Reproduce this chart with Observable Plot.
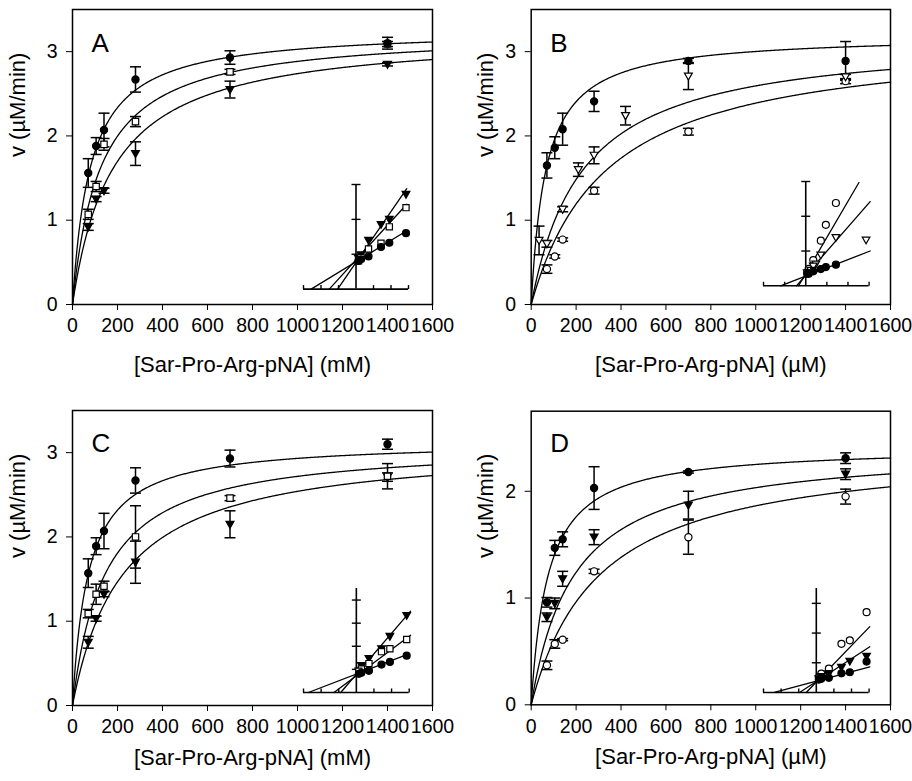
<!DOCTYPE html>
<html><head><meta charset="utf-8">
<script src="https://cdn.jsdelivr.net/npm/d3@7"></script>
<script src="https://cdn.jsdelivr.net/npm/@observablehq/plot@0.6"></script>
<style>
body{margin:0;background:#fff;}
#root{position:relative;width:912px;height:781px;overflow:hidden;background:#fff;font-family:"Liberation Sans",Arial,sans-serif;}
#root svg{position:absolute;overflow:visible;}
</style></head><body><div id="root"></div>
<script>
// ---------- data ----------
const S = [70, 105, 140, 280, 700, 1400];
const xTicks = [0, 200, 400, 600, 800, 1000, 1200, 1400, 1600];

// Panel A
const A_fc_v = [1.56, 1.88, 2.07, 2.67, 2.93, 3.10];
const A_fc_e = [0.17, 0.10, 0.20, 0.15, 0.08, 0.07];
const A_os_v = [1.07, 1.40, 1.90, 2.17, 2.76, 3.09];
const A_os_e = [0.06, 0.06, 0.07, 0.06, 0.03, 0.03];
const A_ft_v = [0.92, 1.25, 1.35, 1.79, 2.55, 2.85];
const A_ft_e = [0.04, 0.03, 0.03, 0.14, 0.10, 0.02];
const A_Vmax = [3.27, 3.245, 3.235];
const A_Km = [80, 125, 181];
const A_lbSlope = [24.5, 44.0, 58.3];
const A_lbInt = [0.314, 0.336, 0.306];
const A_lbEnd = [0.0145, 0.0145, 0.0145];

// Panel B
const B_fc_v = [1.65, 1.86, 2.08, 2.41, 2.89, 2.89];
const B_fc_e = [0.15, 0.13, 0.19, 0.12, 0.03, 0.23];
const B_ot_x = [35, 70, 140, 210, 280, 420, 700, 1400];
const B_ot_v = [0.76, 0.72, 1.13, 1.60, 1.77, 2.24, 2.71, 2.70];
const B_ot_e = [0.17, 0.04, 0.03, 0.08, 0.10, 0.11, 0.16, 0.03];
const B_oc_v = [0.42, 0.57, 0.77, 1.35, 2.05, 2.65];
const B_oc_e = [0.05, 0.02, 0.02, 0.04, 0.04, 0.03];
const B_Vmax = [3.20, 3.19, 3.19];
const B_Km = [66, 230, 335];
const B_lbSlope = [23.6, 69.5, 104];
const B_lbInt = [0.281, 0.30, 0.35];
const B_lbEnd = [0.0305, 0.0305, 0.0252];

// Panel C
const C_fc_v = [1.57, 1.89, 2.07, 2.67, 2.93, 3.10];
const C_fc_e = [0.17, 0.10, 0.21, 0.15, 0.10, 0.06];
const C_os_v = [1.09, 1.32, 1.415, 2.00, 2.46, 2.72];
const C_os_e = [0.05, 0.12, 0.06, 0.37, 0.03, 0.15];
const C_ft_v = [0.75, 1.03, 1.32, 1.70, 2.15, 2.71];
const C_ft_e = [0.07, 0.03, 0.03, 0.25, 0.16, 0.05];
const C_Vmax = [3.14, 3.11, 3.11];
const C_Km = [71, 144, 224];
const C_lbSlope = [23.5, 45.6, 71];
const C_lbInt = [0.32, 0.29, 0.315];
const C_lbEnd = [0.0149, 0.0154, 0.0154];

// Panel D
const D_fc_v = [0.96, 1.47, 1.55, 2.03, 2.18, 2.31];
const D_fc_e = [0.045, 0.07, 0.07, 0.20, 0.01, 0.05];
const D_ft_v = [0.82, 0.95, 1.18, 1.57, 1.87, 2.16];
const D_ft_e = [0.04, 0.05, 0.07, 0.07, 0.13, 0.05];
const D_oc_v = [0.37, 0.57, 0.61, 1.25, 1.57, 1.95];
const D_oc_e = [0.04, 0.04, 0.01, 0.02, 0.16, 0.07];
const D_Vmax = [2.42, 2.42, 2.43];
const D_Km = [75, 190, 304];
const D_lbSlope = [31.9, 77, 122.8];
const D_lbInt = [0.38, 0.367, 0.351];
const D_lbEnd = [0.0152, 0.0152, 0.0152];

const labelmM = "[Sar-Pro-Arg-pNA] (mM)";
const labeluM = "[Sar-Pro-Arg-pNA] (µM)";
const ylabel = "v (µM/min)";

// ---------- symbols ----------
const downTri = {draw(ctx, size){ const r = Math.sqrt(size/Math.PI);
  ctx.moveTo(-1.1*r, -0.85*r); ctx.lineTo(1.1*r, -0.85*r); ctx.lineTo(0, 1.1*r); ctx.closePath(); }};
const capSym = {draw(ctx, size){ const r = Math.sqrt(size/Math.PI); ctx.moveTo(-r,0); ctx.lineTo(r,0); }};
const upTick = {draw(ctx){ ctx.moveTo(0,0); ctx.lineTo(0,-4); }};
const crossTick = {draw(ctx){ ctx.moveTo(-4.5,0); ctx.lineTo(4.5,0); }};
const markerStyle = {
  fc: {symbol: "circle", fill: "black"},
  oc: {symbol: "circle", fill: "white"},
  os: {symbol: "square", fill: "white"},
  ft: {symbol: downTri, fill: "black"},
  ot: {symbol: downTri, fill: "white"}
};

const FONT = "Liberation Sans, Arial, sans-serif";
const root = document.getElementById("root");

function place(svg, left, top){ svg.style.left = left + "px"; svg.style.top = top + "px"; root.appendChild(svg); }

function mainPanel(c){
  const marks = [];
  const grid = d3.range(0, 1601, 4);
  c.series.forEach(s => {
    marks.push(Plot.line(grid.map(x => ({x, y: s.V * x / (s.K + x)})), {x: "x", y: "y", stroke: "black", strokeWidth: 1.3}));
  });
  c.series.forEach(s => {
    const pts = s.x.map((x, i) => ({x, v: s.v[i], e: s.e[i]}));
    marks.push(Plot.ruleX(pts, {x: "x", y1: d => d.v - d.e, y2: d => d.v + d.e, stroke: "black", strokeWidth: 1.5}));
    marks.push(Plot.dot(pts, {x: "x", y: d => d.v + d.e, symbol: capSym, r: 5.5, stroke: "black", strokeWidth: 1.5, fill: "none"}));
    marks.push(Plot.dot(pts, {x: "x", y: d => d.v - d.e, symbol: capSym, r: 5.5, stroke: "black", strokeWidth: 1.5, fill: "none"}));
  });
  c.series.slice().reverse().forEach(s => {
    const pts = s.x.map((x, i) => ({x, v: s.v[i]}));
    const m = markerStyle[s.m];
    marks.push(Plot.dot(pts, {x: "x", y: "v", symbol: m.symbol, fill: m.fill, stroke: "black", strokeWidth: 1.2, r: 3.6}));
  });
  marks.push(Plot.frame({stroke: "black", strokeWidth: 1.5}));
  marks.push(Plot.text([c.letter], {text: d => d, frameAnchor: "top-left", textAnchor: "start", lineAnchor: "top", dx: 19, dy: c.letterDy, fontSize: 26, fill: "black"}));
  marks.push(Plot.text([c.xlabel], {text: d => d, frameAnchor: "bottom", dy: c.xlabelDy, fontSize: 22, fill: "black"}));
  marks.push(Plot.text([ylabel], {text: d => d, frameAnchor: "left", dx: c.ylabelDx, rotate: -90, fontSize: 22, fill: "black"}));
  const svg = Plot.plot({
    width: c.width, height: c.height,
    marginLeft: c.mL, marginRight: c.mR, marginTop: c.mT, marginBottom: c.mB,
    x: {domain: [0, 1600], ticks: xTicks, tickSize: 6, tickPadding: 8, tickFormat: d3.format("d"), label: null},
    y: {domain: [0, c.ymax], ticks: c.yticks, tickSize: 6, tickPadding: 9, tickFormat: d3.format("d"), label: null},
    style: {fontSize: "19.5px", fontFamily: FONT, color: "black", background: "transparent", overflow: "visible"},
    marks
  });
  place(svg, c.left, c.top);
}

function inset(c){
  const m = 10;
  const marks = [];
  marks.push(Plot.ruleY([0], {stroke: "black", strokeWidth: 1.6}));
  marks.push(Plot.ruleX([0], {stroke: "black", strokeWidth: 1.6}));
  marks.push(Plot.dot(c.xticks.map(x => ({x, y: 0})), {x: "x", y: "y", symbol: upTick, stroke: "black", strokeWidth: 1.4, r: 3}));
  marks.push(Plot.dot(c.yticks.map(y => ({x: 0, y})), {x: "x", y: "y", symbol: crossTick, stroke: "black", strokeWidth: 1.4, r: 3}));
  c.lines.forEach(l => {
    marks.push(Plot.line([{x: -l.b / l.a, y: 0}, {x: l.end, y: l.b + l.a * l.end}], {x: "x", y: "y", stroke: "black", strokeWidth: 1.3}));
  });
  c.series.slice().reverse().forEach(s => {
    const pts = s.x.map((x, i) => ({x: 1 / x, y: 1 / s.v[i]}));
    const ms = markerStyle[s.m];
    marks.push(Plot.dot(pts, {x: "x", y: "y", symbol: ms.symbol, fill: ms.fill, stroke: "black", strokeWidth: 1.2, r: 3.5}));
  });
  const svg = Plot.plot({
    width: c.w + 2 * m, height: c.h + 2 * m,
    marginLeft: m, marginRight: m, marginTop: m, marginBottom: m,
    x: {domain: c.xdomain, axis: null},
    y: {domain: c.ydomain, axis: null},
    style: {background: "transparent", overflow: "visible"},
    marks
  });
  place(svg, c.left - m, c.top - m);
}

function mkLines(a, b, e){ return a.map((ai, i) => ({a: ai, b: b[i], end: e[i]})); }

// ---------- panels ----------
const serA = [
  {x: S, v: A_fc_v, e: A_fc_e, m: "fc", V: A_Vmax[0], K: A_Km[0]},
  {x: S, v: A_os_v, e: A_os_e, m: "os", V: A_Vmax[1], K: A_Km[1]},
  {x: S, v: A_ft_v, e: A_ft_e, m: "ft", V: A_Vmax[2], K: A_Km[2]}
];
const serB = [
  {x: S, v: B_fc_v, e: B_fc_e, m: "fc", V: B_Vmax[0], K: B_Km[0]},
  {x: B_ot_x, v: B_ot_v, e: B_ot_e, m: "ot", V: B_Vmax[1], K: B_Km[1]},
  {x: S, v: B_oc_v, e: B_oc_e, m: "oc", V: B_Vmax[2], K: B_Km[2]}
];
const serC = [
  {x: S, v: C_fc_v, e: C_fc_e, m: "fc", V: C_Vmax[0], K: C_Km[0]},
  {x: S, v: C_os_v, e: C_os_e, m: "os", V: C_Vmax[1], K: C_Km[1]},
  {x: S, v: C_ft_v, e: C_ft_e, m: "ft", V: C_Vmax[2], K: C_Km[2]}
];
const serD = [
  {x: S, v: D_fc_v, e: D_fc_e, m: "fc", V: D_Vmax[0], K: D_Km[0]},
  {x: S, v: D_ft_v, e: D_ft_e, m: "ft", V: D_Vmax[1], K: D_Km[1]},
  {x: S, v: D_oc_v, e: D_oc_e, m: "oc", V: D_Vmax[2], K: D_Km[2]}
];

mainPanel({left: 0, top: 0, width: 456, height: 390, mL: 72, mR: 24, mT: 9, mB: 86, ymax: 3.5, yticks: [0,1,2,3],
  letter: "A", letterDy: 24, xlabel: labelmM, xlabelDy: 67, ylabelDx: -55, series: serA});
mainPanel({left: 456, top: 0, width: 456, height: 390, mL: 74.7, mR: 22, mT: 9, mB: 86, ymax: 3.5, yticks: [0,1,2,3],
  letter: "B", letterDy: 24, xlabel: labeluM, xlabelDy: 67, ylabelDx: -45, series: serB});
mainPanel({left: 0, top: 400, width: 456, height: 381, mL: 72, mR: 24, mT: 10, mB: 76, ymax: 3.5, yticks: [0,1,2,3],
  letter: "C", letterDy: 22.7, xlabel: labelmM, xlabelDy: 59, ylabelDx: -55, series: serC});
mainPanel({left: 456, top: 400, width: 456, height: 381, mL: 74.7, mR: 22, mT: 10.7, mB: 76.7, ymax: 2.75, yticks: [0,1,2],
  letter: "D", letterDy: 22, xlabel: labeluM, xlabelDy: 59, ylabelDx: -45, series: serD});

const tA = [-0.015, -0.01, -0.005, 0.005, 0.01, 0.015];
inset({left: 303.3, top: 183.7, w: 105, h: 104.6, xdomain: [-0.015, 0.015], ydomain: [0, 1.2], xticks: tA, yticks: [0.4, 0.8, 1.2],
  lines: mkLines(A_lbSlope, A_lbInt, A_lbEnd), series: serA});
inset({left: 762.7, top: 180.7, w: 105.6, h: 104.3, xdomain: [-0.02, 0.03], ydomain: [0, 3], xticks: [-0.02, -0.01, 0.01, 0.02, 0.03], yticks: [1, 2, 3],
  lines: mkLines(B_lbSlope, B_lbInt, B_lbEnd), series: serB});
inset({left: 303.3, top: 587.7, w: 105.7, h: 104, xdomain: [-0.015, 0.015], ydomain: [0, 1.8], xticks: tA, yticks: [0.4, 0.8, 1.2, 1.6],
  lines: mkLines(C_lbSlope, C_lbInt, C_lbEnd), series: serC});
inset({left: 762.7, top: 587.7, w: 105.6, h: 104, xdomain: [-0.015, 0.015], ydomain: [0, 3.5], xticks: tA, yticks: [1, 2, 3],
  lines: mkLines(D_lbSlope, D_lbInt, D_lbEnd), series: serD});
</script></body></html>
